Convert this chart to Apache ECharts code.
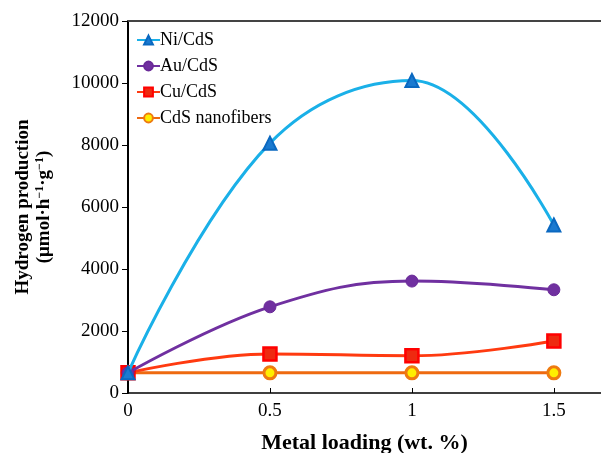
<!DOCTYPE html>
<html>
<head>
<meta charset="utf-8">
<script src="https://cdn.jsdelivr.net/npm/echarts@6/dist/echarts.min.js"></script>
<style>
  html, body { margin: 0; padding: 0; background: #fff; }
  #chart { width: 601px; height: 453px; }
</style>
</head>
<body>
<div id="chart"></div>
<script>
// metal loading (wt. %)
const loading = [0, 0.5, 1, 1.5];
// hydrogen production (umol h-1 g-1)
const niCdS = [650, 8060, 10080, 5420];
const auCdS = [650, 2780, 3610, 3330];
const cuCdS = [650, 1260, 1200, 1680];
const cdsNanofibers = [650, 650, 650, 650];

const font = '"Liberation Serif", "DejaVu Serif", serif';

function pairs(ys) {
  return loading.map((x, i) => [x, ys[i]]);
}

const chart = echarts.init(document.getElementById('chart'));

chart.setOption({
  animation: false,
  grid: {
    left: 128,
    top: 21,
    right: 0,
    bottom: 60,
    outerBoundsMode: 'none',
    containLabel: false
  },
  legend: {
    orient: 'vertical',
    left: 131,
    top: 26,
    itemGap: 8,
    itemWidth: 23,
    itemHeight: 11,
    textStyle: { fontFamily: font, fontSize: 18, color: '#000', padding: [0, 0, 0, -5] },
    data: ['Ni/CdS', 'Au/CdS', 'Cu/CdS', 'CdS nanofibers']
  },
  xAxis: [
    {
      type: 'value',
      min: 0,
      max: 1.666,
      interval: 0.5,
      name: 'Metal loading (wt. %)',
      nameLocation: 'middle',
      nameGap: 39,
      nameTextStyle: { fontFamily: font, fontSize: 22, fontWeight: 'bold', color: '#000' },
      axisLine: { lineStyle: { color: '#000', width: 1.5 } },
      axisTick: { inside: true, length: 5, lineStyle: { color: '#000' } },
      axisLabel: {
        fontFamily: font, fontSize: 19, color: '#000', margin: 9,
        showMaxLabel: false,
        formatter: v => (v > 1.6 ? '' : String(v))
      },
      splitLine: { show: false }
    },
    {
      type: 'value',
      position: 'top',
      min: 0,
      max: 1.666,
      axisLine: { show: true, lineStyle: { color: '#444', width: 2 } },
      axisTick: { show: false },
      axisLabel: { show: false },
      splitLine: { show: false }
    }
  ],
  yAxis: {
    type: 'value',
    min: 0,
    max: 12000,
    interval: 2000,
    name: '{b|Hydrogen production}\n{b|(μmol·h}{s|−1}{b|·g}{s|−1}{b|)}',
    nameLocation: 'middle',
    nameRotate: 90,
    nameGap: 73,
    nameTextStyle: {
      fontFamily: font, color: '#000', lineHeight: 21,
      rich: {
        b: { fontFamily: font, fontSize: 19, fontWeight: 'bold', color: '#000', lineHeight: 21 },
        s: { fontFamily: font, fontSize: 12, fontWeight: 'bold', color: '#000', verticalAlign: 'top', lineHeight: 21, padding: [0, 0, 8, 0] }
      }
    },
    axisLine: { show: true, lineStyle: { color: '#000', width: 2 } },
    axisTick: { show: true, length: 6, lineStyle: { color: '#000' } },
    axisLabel: { fontFamily: font, fontSize: 19, color: '#000', margin: 9, formatter: v => String(v) },
    splitLine: { show: false }
  },
  series: [
    {
      name: 'CdS nanofibers',
      type: 'line',
      data: pairs(cdsNanofibers),
      symbol: 'circle',
      symbolSize: 12,
      lineStyle: { color: '#ee6a10', width: 3 },
      itemStyle: { color: '#ffee00', borderColor: '#ee7a10', borderWidth: 3 },
      z: 2
    },
    {
      name: 'Cu/CdS',
      type: 'line',
      smooth: 0.4,
      data: pairs(cuCdS),
      symbol: 'rect',
      symbolSize: 13,
      lineStyle: { color: '#ff3a10', width: 3 },
      itemStyle: { color: '#ee2a10', borderColor: '#ff0000', borderWidth: 2.5 },
      z: 3
    },
    {
      name: 'Au/CdS',
      type: 'line',
      smooth: 0.4,
      data: pairs(auCdS),
      symbol: 'circle',
      symbolSize: 12,
      lineStyle: { color: '#7030a0', width: 3 },
      itemStyle: { color: '#7030a0', borderColor: '#6a2a98', borderWidth: 1 },
      z: 4
    },
    {
      name: 'Ni/CdS',
      type: 'line',
      smooth: 0.4,
      data: pairs(niCdS),
      symbol: 'triangle',
      symbolSize: 13,
      lineStyle: { color: '#1ab0e8', width: 3 },
      itemStyle: { color: '#1a7ad0', borderColor: '#0a68c0', borderWidth: 2 },
      z: 5
    }
  ]
});
</script>
</body>
</html>
